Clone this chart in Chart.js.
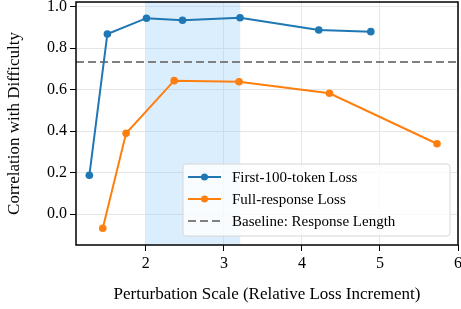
<!DOCTYPE html>
<html>
<head>
<meta charset="utf-8">
<script src="https://cdn.jsdelivr.net/npm/chart.js@4.4.1/dist/chart.umd.min.js"></script>
<style>
  html, body { margin: 0; padding: 0; background: #fff; }
  #wrap { width: 461px; height: 309px; }
</style>
</head>
<body>
<div id="wrap"><canvas id="chart" width="461" height="309"></canvas></div>
<script>
// data
const firstX = [1.276, 1.507, 2.008, 2.47, 3.207, 4.216, 4.883];
const firstY = [0.188, 0.869, 0.945, 0.935, 0.947, 0.888, 0.880];
const fullX = [1.448, 1.747, 2.363, 3.194, 4.353, 5.731];
const fullY = [-0.067, 0.390, 0.644, 0.639, 0.583, 0.340];
const baselineY = 0.734;
const spanRange = [2.0, 3.21];
const xTicks = [2, 3, 4, 5, 6];
const yTicks = [0.0, 0.2, 0.4, 0.6, 0.8, 1.0];
const seriesNames = ['First-100-token Loss', 'Full-response Loss', 'Baseline: Response Length'];

const BLUE = '#1f77b4';
const ORANGE = '#ff7f0e';
const GREY = '#808080';
const FONT = '"Liberation Serif", "Times New Roman", serif';

function pts(xs, ys) {
    return xs.map((x, i) => ({ x: x, y: ys[i] }));
}

// shaded band + frame + legend
const extras = {
    id: 'extras',
    beforeDatasetsDraw(chart) {
        const { ctx, chartArea: a, scales: { x } } = chart;
        ctx.save();
        ctx.fillStyle = 'rgba(144, 202, 249, 0.32)';
        const x0 = x.getPixelForValue(spanRange[0]);
        const x1 = x.getPixelForValue(spanRange[1]);
        ctx.fillRect(x0, a.top, x1 - x0, a.bottom - a.top);
        ctx.restore();
    },
    afterDraw(chart) {
        const { ctx, chartArea: a } = chart;
        ctx.save();
        ctx.strokeStyle = '#000';
        ctx.lineWidth = 1.5;
        ctx.strokeRect(a.left, a.top, a.right - a.left, a.bottom - a.top);

        // legend box
        const bx = 183, by = 164, bw = 267, bh = 72;
        ctx.beginPath();
        ctx.roundRect(bx, by, bw, bh, 3);
        ctx.fillStyle = 'rgba(255,255,255,0.8)';
        ctx.fill();
        ctx.strokeStyle = '#d6d6d6';
        ctx.lineWidth = 1;
        ctx.stroke();

        const rows = [
            { c: BLUE, dash: [], marker: true },
            { c: ORANGE, dash: [], marker: true },
            { c: GREY, dash: [8, 4], marker: false }
        ];
        ctx.font = '15px ' + FONT;
        ctx.textBaseline = 'middle';
        rows.forEach((r, i) => {
            const yy = by + 13 + i * 22;
            ctx.beginPath();
            ctx.setLineDash(r.dash);
            ctx.strokeStyle = r.c;
            ctx.lineWidth = 2;
            ctx.moveTo(188, yy);
            ctx.lineTo(221, yy);
            ctx.stroke();
            ctx.setLineDash([]);
            if (r.marker) {
                ctx.beginPath();
                ctx.fillStyle = r.c;
                ctx.arc(204.5, yy, 3.5, 0, Math.PI * 2);
                ctx.fill();
            }
            ctx.fillStyle = '#000';
            ctx.fillText(seriesNames[i], 232, yy + 1);
        });
        ctx.restore();
    }
};

const ctx = document.getElementById('chart').getContext('2d');
new Chart(ctx, {
    type: 'scatter',
    data: {
        datasets: [
            {
                label: seriesNames[0],
                data: pts(firstX, firstY),
                showLine: true,
                borderColor: BLUE,
                backgroundColor: BLUE,
                borderWidth: 2,
                pointRadius: 3.8,
                pointBorderWidth: 0
            },
            {
                label: seriesNames[1],
                data: pts(fullX, fullY),
                showLine: true,
                borderColor: ORANGE,
                backgroundColor: ORANGE,
                borderWidth: 2,
                pointRadius: 3.8,
                pointBorderWidth: 0
            },
            {
                label: seriesNames[2],
                data: [{ x: 1.105, y: baselineY }, { x: 6, y: baselineY }],
                showLine: true,
                borderColor: GREY,
                borderWidth: 2,
                borderDash: [8, 4],
                pointRadius: 0
            }
        ]
    },
    options: {
        responsive: false,
        animation: false,
        layout: { autoPadding: false, padding: { top: 2, right: 3, left: 0, bottom: 0 } },
        plugins: {
            legend: { display: false },
            tooltip: { enabled: false }
        },
        scales: {
            x: {
                type: 'linear',
                min: 1.105,
                max: 6,
                afterBuildTicks: (s) => { s.ticks = xTicks.map(v => ({ value: v })); },
                afterFit: (s) => { s.height = 64; s.paddingLeft = 0; s.paddingRight = 0; },
                border: { display: false },
                grid: { color: '#e6e6e6', lineWidth: 1, tickColor: '#000', tickLength: 6, tickWidth: 1 },
                ticks: { color: '#000', font: { family: FONT, size: 16 }, padding: 3 },
                title: {
                    display: true,
                    text: 'Perturbation Scale (Relative Loss Increment)',
                    color: '#000',
                    font: { family: FONT, size: 17 },
                    padding: { top: 2, bottom: 4 }
                }
            },
            y: {
                type: 'linear',
                min: -0.148,
                max: 1.023,
                afterBuildTicks: (s) => { s.ticks = yTicks.map(v => ({ value: v })); },
                afterFit: (s) => { s.width = 76; s.paddingTop = 0; s.paddingBottom = 0; },
                border: { display: false },
                grid: { color: '#e6e6e6', lineWidth: 1, tickColor: '#000', tickLength: 6, tickWidth: 1 },
                ticks: {
                    color: '#000',
                    font: { family: FONT, size: 16 },
                    padding: 3,
                    callback: (v) => v.toFixed(1)
                },
                title: {
                    display: true,
                    text: 'Correlation with Difficulty',
                    color: '#000',
                    font: { family: FONT, size: 17 },
                    padding: { top: 4, bottom: 2 }
                }
            }
        }
    },
    plugins: [extras]
});
</script>
</body>
</html>
